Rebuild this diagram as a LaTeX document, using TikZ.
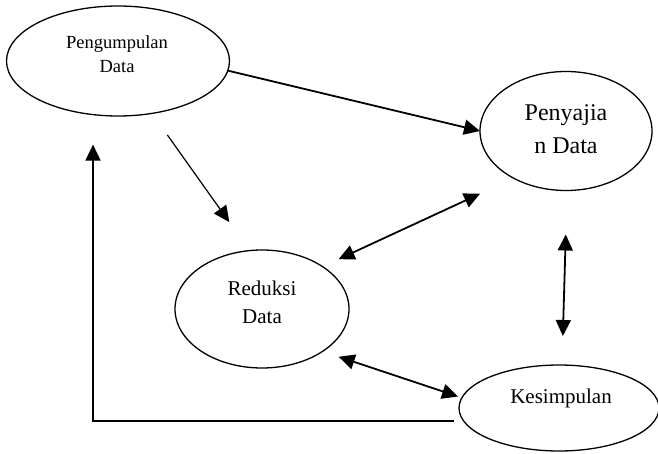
\documentclass[tikz,border=0pt]{standalone}
\usepackage{fontspec}
\setmainfont{Liberation Serif}
\usetikzlibrary{arrows.meta,shapes.geometric}
\tikzset{
  tahap/.style={draw, ellipse, line width=1.3pt, inner sep=0pt, outer sep=0pt},
  teks/.style={align=center, inner sep=0pt},
  panah/.style={-{Triangle[length=16pt,width=15pt]}, line width=1.8pt},
  panahdua/.style={{Triangle[length=16pt,width=15pt]}-{Triangle[length=16pt,width=15pt]}, line width=1.8pt},
}

\begin{document}
\begin{tikzpicture}[x=1pt,y=-1pt]
  \useasboundingbox (0,0) rectangle (658,454);
  % tahap analisis
  \node[tahap, minimum width=223pt, minimum height=110pt] (pengumpulan) at (118,61) {};
  \node[tahap, minimum width=172pt, minimum height=119pt] (penyajian) at (566,131) {};
  \node[tahap, minimum width=174pt, minimum height=118pt] (reduksi) at (262,309) {};
  \node[tahap, minimum width=200pt, minimum height=86pt] (kesimpulan) at (559,408) {};
  \node[teks, font=\fontsize{18.5}{24}\selectfont] (pengumpulan-teks) at (117,54) {Pengumpulan\\Data};
  \node[teks, font=\fontsize{24}{33}\selectfont] (penyajian-teks) at (566,129) {Penyajia\\n Data};
  \node[teks, font=\fontsize{21}{28}\selectfont] (reduksi-teks) at (262,302) {Reduksi\\Data};
  \node[teks, font=\fontsize{21}{28}\selectfont] (kesimpulan-teks) at (561,398) {Kesimpulan};
  % alur
  \draw[panah] (pengumpulan.-5) -- (penyajian.west);
  \draw[panah, line width=1.2pt, shorten <=26.5pt, shorten >=35pt] (pengumpulan.-57) -- (reduksi.102);
  \draw[panahdua, shorten <=17.7pt, shorten >=37pt] (reduksi.35) -- (penyajian.-138);
  \draw[panahdua, shorten <=44pt, shorten >=29pt] (penyajian.-89) -- (kesimpulan.86);
  \draw[panahdua, shorten <=17pt, shorten >=4pt] (reduksi.-35) -- (kesimpulan.174);
  \draw[panah, shorten <=10pt, shorten >=30pt] (kesimpulan.-172) -| (pengumpulan.-115);
\end{tikzpicture}
\end{document}
